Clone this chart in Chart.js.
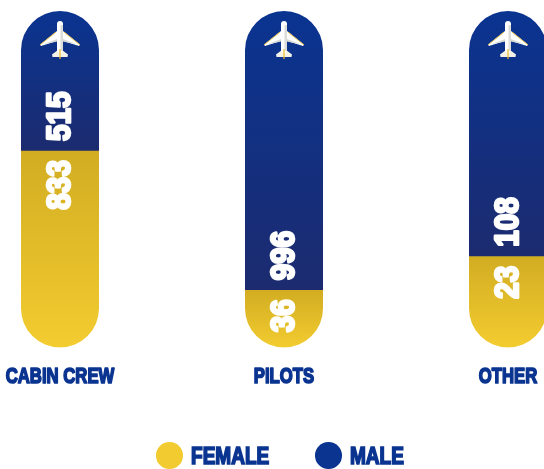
<!DOCTYPE html>
<html>
<head>
<meta charset="utf-8">
<title>Crew by gender</title>
<script src="https://cdn.jsdelivr.net/npm/chart.js@4"></script>
<style>
  html, body { margin: 0; padding: 0; background: #fff; overflow: hidden; }
  #wrap { position: relative; width: 544px; height: 469px; }
  canvas { display: block; }
  #legend { position: absolute; left: 0; top: 441px; width: 544px; height: 30px; }
  #legend .dot { position: absolute; top: 1px; width: 26.5px; height: 26.5px; border-radius: 50%; }
  #legend .txt {
    position: absolute; top: 1px; color: #0a3490; white-space: nowrap;
    font: bold 23.5px/29px "Liberation Sans", sans-serif;
    -webkit-text-stroke: 1.7px #0a3490;
    transform: scaleX(0.81);
    transform-origin: left center;
  }
</style>
</head>
<body>
<div id="wrap">
  <canvas id="crew" width="544" height="469"></canvas>
  <div id="legend"></div>
</div>
<script>
// headcounts
const categories = ["CABIN CREW", "PILOTS", "OTHER"];
const female = [833, 36, 23];
const male = [515, 996, 108];
const seriesNames = ["FEMALE", "MALE"];

// percent axis runs past 0-100 so the capsule ends have room
const axisMin = -20.5;
const axisMax = 120.5;

const BLUE = "#0a3490";
const YELLOW = "#f2cb30";
const share = female.map((f, i) => f / (f + male[i]) * 100);

function segmentGradient(context, startColor, endColor) {
  const { chart, raw } = context;
  if (!chart.chartArea || !raw) return startColor;
  const y = chart.scales.y;
  const g = chart.ctx.createLinearGradient(0, y.getPixelForValue(raw[0]), 0, y.getPixelForValue(raw[1]));
  g.addColorStop(0, startColor);
  g.addColorStop(1, endColor);
  return g;
}

// clips the square bars into one capsule per category
const capsuleClip = {
  id: "capsuleClip",
  beforeDatasetsDraw(chart) {
    const { ctx, scales } = chart;
    const top = scales.y.getPixelForValue(axisMax);
    const bottom = scales.y.getPixelForValue(axisMin);
    const w = chart.getDatasetMeta(0).data[0].width;
    ctx.save();
    ctx.beginPath();
    categories.forEach((c, i) => {
      const x = scales.x.getPixelForValue(i);
      ctx.roundRect(x - w / 2, top, w, bottom - top, w / 2);
    });
    ctx.clip();
  },
  afterDatasetsDraw(chart) {
    chart.ctx.restore();
  }
};

function drawPlane(ctx, x, y) {
  ctx.save();
  ctx.translate(x, y);
  // tailplane
  ctx.fillStyle = "#f4f1e6";
  ctx.beginPath();
  ctx.moveTo(-2, 29); ctx.lineTo(-8, 33.5); ctx.lineTo(-7.5, 36); ctx.lineTo(7.5, 36); ctx.lineTo(8, 33.5); ctx.lineTo(2, 29);
  ctx.closePath();
  ctx.fill();
  // wings
  ctx.fillStyle = "#ffffff";
  ctx.beginPath();
  ctx.moveTo(-3, 10); ctx.lineTo(-20, 23.5); ctx.lineTo(-19, 25); ctx.lineTo(-3, 20);
  ctx.lineTo(3, 20); ctx.lineTo(19, 25); ctx.lineTo(20, 23.5); ctx.lineTo(3, 10);
  ctx.closePath();
  ctx.fill();
  ctx.fillStyle = "#d8d8d4";
  ctx.beginPath();
  ctx.moveTo(-3, 18); ctx.lineTo(-17, 23.5); ctx.lineTo(-3, 20.5);
  ctx.moveTo(3, 18); ctx.lineTo(17, 23.5); ctx.lineTo(3, 20.5);
  ctx.fill();
  // leading edge
  ctx.strokeStyle = "#e3c24a";
  ctx.lineWidth = 1;
  ctx.beginPath();
  ctx.moveTo(-4, 11); ctx.lineTo(-20, 24);
  ctx.moveTo(4, 11); ctx.lineTo(20, 24);
  ctx.stroke();
  // fuselage
  ctx.fillStyle = "#ffffff";
  ctx.beginPath();
  ctx.roundRect(-3, 0, 6, 32, 3);
  ctx.fill();
  ctx.fillStyle = "#dcdcd8";
  ctx.fillRect(0.5, 4, 2.5, 26);
  // fin
  ctx.fillStyle = "#e9bd28";
  ctx.fillRect(-0.6, 28, 1.2, 10);
  ctx.restore();
}

// squeezed heavy text, the installed fonts have no condensed black cut
function heavyText(ctx, text, x, y, align, squeeze, stroke) {
  ctx.save();
  ctx.translate(x, y);
  ctx.scale(squeeze, 1);
  ctx.textAlign = align;
  ctx.lineJoin = "round";
  ctx.lineWidth = stroke;
  ctx.fillText(text, 0, 0);
  ctx.strokeText(text, 0, 0);
  ctx.restore();
}

// rotated counts either side of the split, plane in each capsule top, names below
const barDecor = {
  id: "barDecor",
  afterDatasetsDraw(chart) {
    const { ctx, scales } = chart;
    categories.forEach((c, i) => {
      const x = scales.x.getPixelForValue(i);
      const split = scales.y.getPixelForValue(share[i]);
      drawPlane(ctx, x, scales.y.getPixelForValue(axisMax) + 10);

      ctx.save();
      ctx.translate(x, split);
      ctx.rotate(-Math.PI / 2);
      ctx.font = 'bold 33px "Liberation Sans", sans-serif';
      ctx.textBaseline = "middle";
      ctx.fillStyle = "#fff";
      ctx.strokeStyle = "#fff";
      heavyText(ctx, String(male[i]), 10, 1, "left", 0.9, 2.6);
      heavyText(ctx, String(female[i]), -9, 1, "right", 0.9, 2.6);
      ctx.restore();

      ctx.font = 'bold 22px "Liberation Sans", sans-serif';
      ctx.textBaseline = "middle";
      ctx.fillStyle = BLUE;
      ctx.strokeStyle = BLUE;
      heavyText(ctx, c, x, 376.5, "center", 0.76, 1.7);
    });
  }
};

new Chart(document.getElementById("crew"), {
  type: "bar",
  data: {
    labels: categories,
    datasets: [
      {
        label: seriesNames[0],
        data: share.map(s => [axisMin, s]),
        backgroundColor: ctx => segmentGradient(ctx, "#f3cc30", "#d2ad22")
      },
      {
        label: seriesNames[1],
        data: share.map(s => [s, axisMax]),
        backgroundColor: ctx => segmentGradient(ctx, "#1c2b6f", "#0a3491")
      }
    ]
  },
  options: {
    responsive: false,
    animation: false,
    grouped: false,
    barThickness: 78,
    clip: false,
    borderWidth: 0,
    layout: { padding: { left: 60, right: 36, top: 11, bottom: 121.5 } },
    plugins: { legend: { display: false }, tooltip: { enabled: false } },
    scales: {
      x: { display: false, offset: false },
      y: { display: false, min: axisMin, max: axisMax }
    }
  },
  plugins: [capsuleClip, barDecor]
});

// legend row under the chart
const legendEl = document.getElementById("legend");
const legendLayout = [{ dot: 156, text: 191 }, { dot: 315, text: 350 }];
[YELLOW, BLUE].forEach((color, i) => {
  const dot = document.createElement("span");
  dot.className = "dot";
  dot.style.left = legendLayout[i].dot + "px";
  dot.style.background = color;
  const txt = document.createElement("span");
  txt.className = "txt";
  txt.style.left = legendLayout[i].text + "px";
  txt.textContent = seriesNames[i];
  legendEl.append(dot, txt);
});
</script>
</body>
</html>
